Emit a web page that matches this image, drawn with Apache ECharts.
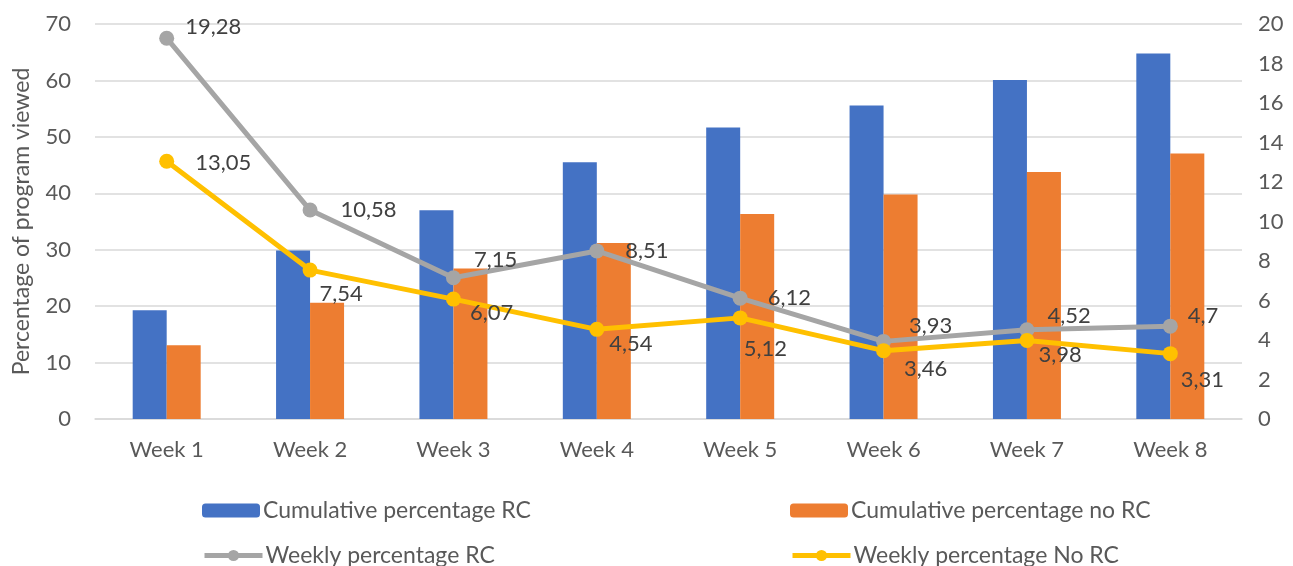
<!DOCTYPE html>
<html>
<head>
<meta charset="utf-8">
<script src="https://cdn.jsdelivr.net/npm/echarts@6/dist/echarts.min.js"></script>
<style>
html,body{margin:0;padding:0;background:#fff;}
#c{width:1293px;height:566px;}
</style>
</head>
<body>
<div id="c"></div>
<script>
const categories = ['Week 1','Week 2','Week 3','Week 4','Week 5','Week 6','Week 7','Week 8'];
const cumulativeRC = [19.28, 29.86, 37.01, 45.52, 51.64, 55.57, 60.09, 64.79];
const cumulativeNoRC = [13.05, 20.59, 26.66, 31.20, 36.32, 39.78, 43.76, 47.07];
const weeklyRC = [19.28, 10.58, 7.15, 8.51, 6.12, 3.93, 4.52, 4.7];
const weeklyNoRC = [13.05, 7.54, 6.07, 4.54, 5.12, 3.46, 3.98, 3.31];
const leftTicks = {min: 0, max: 70, interval: 10};
const rightTicks = {min: 0, max: 20, interval: 2};

// label placement (pixel offsets of label's left edge / middle from the point)
const rcLabelOffsets = [[18,-11],[30,0],[20,-18],[28,0],[27,0],[25,-15],[20,-14],[17,-10]];
const noRcLabelOffsets = [[28,2],[9,24],[16,14],[12,15],[3,31],[20,18],[11,15],[10,26]];

const FONT = 'Lato';
const TXT = '#595959';
const FS = 22;

function lineData(vals, offs){
  return vals.map((v,i)=>({
    value: v,
    label: {offset: [offs[i][0]-7, offs[i][1]]}
  }));
}
const fmt = p => String(p.value).replace('.', ',');

function legendItem(name, left, top, isLine){
  const item = {name: name};
  if (isLine) {
    item.lineStyle = {width: 5};
    item.itemStyle = {};
  }
  return {
    left: left, top: top, orient: 'horizontal',
    itemWidth: 58, itemHeight: isLine ? 14 : 14, itemGap: 0,
    symbolRotate: 0,
    textStyle: {fontFamily: FONT, fontSize: 23, color: TXT, padding: [0,0,0,-2]},
    data: [item]
  };
}

const chart = echarts.init(document.getElementById('c'));
chart.setOption({
  animation: false,
  textStyle: {fontFamily: FONT, color: TXT},
  grid: {left: 95, right: 51, top: 24, bottom: 147},
  legend: [
    legendItem('Cumulative percentage RC', 197, 494, false),
    legendItem('Weekly percentage RC', 197, 539, true),
    legendItem('Cumulative percentage no RC', 785, 494, false),
    legendItem('Weekly percentage No RC', 785, 539, true)
  ],
  xAxis: {
    type: 'category',
    data: categories,
    axisLine: {lineStyle: {color: '#D9D9D9', width: 1.5}},
    axisTick: {show: false},
    axisLabel: {fontFamily: FONT, fontSize: FS, color: TXT, margin: 20}
  },
  yAxis: [
    {
      type: 'value', min: leftTicks.min, max: leftTicks.max, interval: leftTicks.interval,
      name: 'Percentage of program viewed',
      nameLocation: 'middle', nameGap: 62,
      nameTextStyle: {fontFamily: FONT, fontSize: 23, color: TXT},
      axisLine: {show: false}, axisTick: {show: false},
      axisLabel: {fontFamily: FONT, fontSize: FS, color: TXT, margin: 24},
      splitLine: {lineStyle: {color: '#D9D9D9', width: 1.5}}
    },
    {
      type: 'value', min: rightTicks.min, max: rightTicks.max, interval: rightTicks.interval,
      position: 'right',
      axisLine: {show: false}, axisTick: {show: false},
      axisLabel: {fontFamily: FONT, fontSize: FS, color: TXT, margin: 16},
      splitLine: {show: false}
    }
  ],
  series: [
    {
      name: 'Cumulative percentage RC', type: 'bar', yAxisIndex: 0,
      data: cumulativeRC, barWidth: 34, barGap: '0%',
      itemStyle: {color: '#4472C4'}
    },
    {
      name: 'Cumulative percentage no RC', type: 'bar', yAxisIndex: 0,
      data: cumulativeNoRC, barWidth: 34, barGap: '0%',
      itemStyle: {color: '#ED7D31'}
    },
    {
      name: 'Weekly percentage RC', type: 'line', yAxisIndex: 1,
      data: lineData(weeklyRC, rcLabelOffsets),
      symbol: 'circle', symbolSize: 15,
      lineStyle: {color: '#A5A5A5', width: 5},
      itemStyle: {color: '#A5A5A5'},
      label: {show: true, position: 'right', distance: 0, formatter: fmt,
              fontFamily: FONT, fontSize: FS, color: '#404040'},
      z: 5
    },
    {
      name: 'Weekly percentage No RC', type: 'line', yAxisIndex: 1,
      data: lineData(weeklyNoRC, noRcLabelOffsets),
      symbol: 'circle', symbolSize: 15,
      lineStyle: {color: '#FFC000', width: 5},
      itemStyle: {color: '#FFC000'},
      label: {show: true, position: 'right', distance: 0, formatter: fmt,
              fontFamily: FONT, fontSize: FS, color: '#404040'},
      z: 6
    }
  ]
});
</script>
</body>
</html>
